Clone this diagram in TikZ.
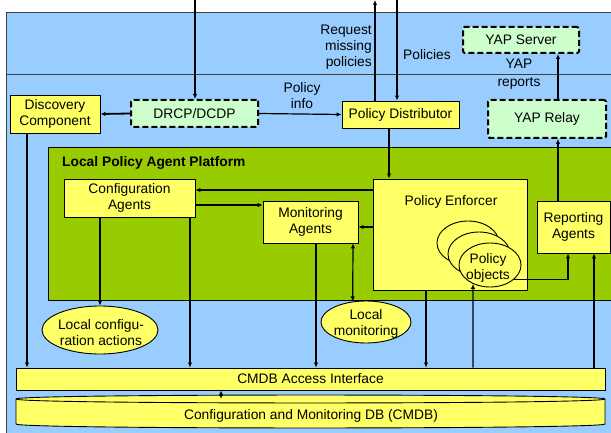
\documentclass[tikz,border=0pt]{standalone}
\usepackage{fontspec}
\setmainfont{Liberation Sans}
\usetikzlibrary{arrows.meta,shapes.geometric}
\definecolor{bandblue}{HTML}{99CCFF}
\definecolor{platgreen}{HTML}{99CC00}
\definecolor{boxyellow}{HTML}{FFFF66}
\definecolor{dashgreen}{HTML}{CCFFCC}
\begin{document}
\begin{tikzpicture}[x=1pt,y=-1pt,
  font=\fontsize{13.8}{16}\selectfont,
  box/.style={draw, fill=boxyellow, line width=0.9pt, align=center, inner sep=0pt},
  dbox/.style={draw, fill=dashgreen, line width=2pt, dash pattern=on 6pt off 3pt, rounded corners=1.5pt, align=center, inner sep=0pt},
  ell/.style={ellipse, draw, fill=boxyellow, line width=0.9pt, inner sep=0pt, align=center},
  lbl/.style={align=center, inner sep=0pt},
  arr/.style={line width=1.2pt, -{Latex[length=5pt,width=4.5pt]}},
  darr/.style={line width=1.2pt, {Latex[length=5pt,width=4.5pt]}-{Latex[length=5pt,width=4.5pt]}},
  plain/.style={line width=1.2pt}]
\useasboundingbox (0,0) rectangle (611,433);
\fill[white] (0,0) rectangle (611,433);
% bands
\path[draw=black!75, fill=bandblue, line width=0.8pt] (6,12) rectangle (625,74);
\path[draw=black!75, fill=bandblue, line width=0.8pt] (6,74) rectangle (625,445);
% platform
\node[draw, fill=platgreen, line width=1pt, minimum width=580pt, minimum height=153pt, anchor=north west, inner sep=0pt] (plat) at (48,147) {};
\node[lbl, anchor=west, font=\fontsize{13.8}{16}\selectfont\bfseries] (platlbl) at (62,163) {Local Policy Agent Platform};

% top nodes
\node[box, minimum width=90pt, minimum height=38pt] (disc) at (55,114) {Discovery\\Component};
\node[dbox, minimum width=127pt, minimum height=27pt] (drcp) at (194.5,113.5) {DRCP/DCDP};
\node[box, minimum width=117pt, minimum height=27pt] (pd) at (400.5,114.5) {Policy Distributor};
\node[dbox, minimum width=116pt, minimum height=26pt] (yaps) at (521,40) {YAP Server};
\node[dbox, minimum width=118pt, minimum height=38pt] (yapr) at (547,119) {YAP Relay};

% platform nodes
\node[box, minimum width=131pt, minimum height=38pt] (conf) at (129.5,198) {Configuration\\Agents};
\node[box, minimum width=95pt, minimum height=42pt] (mon) at (310.5,222) {Monitoring\\Agents};
\node[box, minimum width=154pt, minimum height=111pt] (pe) at (450,234.5) {};
\node[lbl] (petext) at (451,202) {Policy Enforcer};
\node[box, minimum width=73pt, minimum height=52pt] (rep) at (573.5,227) {Reporting\\Agents};
\node[ell, minimum width=62pt, minimum height=44pt] (po1) at (468,243) {};
\node[ell, minimum width=62pt, minimum height=44pt] (po2) at (479,254) {};
\node[ell, minimum width=62pt, minimum height=44pt] (po3) at (490,265) {};
\node[lbl] (potext) at (488,268) {Policy\\objects};

% lower nodes
\node[ell, minimum width=116pt, minimum height=48pt] (lca) at (100,330) {};
\node[lbl] (lcatext) at (101,333) {Local configu-\\ration actions};
\node[ell, minimum width=90pt, minimum height=42pt] (lmon) at (366,322) {};
\node[lbl] (lmontext) at (366,324) {Local\\monitoring};
\node[box, minimum width=589pt, minimum height=22pt] (cai) at (310.5,379) {CMDB Access Interface};
% database cylinder
\node[minimum width=589pt, minimum height=29pt, inner sep=0pt] (cmdb) at (310.5,413.5) {};
\path[draw, fill=boxyellow, line width=0.9pt] (16,399) -- (16,424) .. controls (16,429.3) and (605,429.3) .. (605,424) -- (605,399) .. controls (605,393.7) and (16,393.7) .. (16,399) -- cycle;
\draw[line width=0.9pt] (16,399) .. controls (16,404.3) and (605,404.3) .. (605,399);
\node[lbl] (cmdbtext) at (311,416) {Configuration and Monitoring DB (CMDB)};

% top labels
\node[lbl, anchor=east, align=right] (reqlbl) at (372,47) {Request\\missing\\policies};
\node[lbl] (pollbl) at (427,55) {Policies};
\node[lbl] (pinfo) at (302,96) {Policy\\info};
\node[lbl, font=\fontsize{13.8}{17.5}\selectfont] (yaplbl) at (519,74) {YAP\\reports};

% coordinates
\coordinate (t1) at (195,0);
\coordinate (t2) at (375,0);
\coordinate (t3) at (397,0);

% connectors top
\draw[arr] (t1) -- (drcp.north -| t1);
\draw[arr] (pd.north -| t2) -- (t2);
\draw[arr] (t3) -- (pd.north -| t3);
\draw[arr, line width=1.8pt] (drcp.west) -- (disc.east);
\draw[arr] (drcp.east) -- (pd.west);
\draw[arr] (yapr.north -| 558,0) -- (yaps.south -| 558,0);
\draw[arr] (rep.north -| 558,0) -- (yapr.south -| 558,0);
\draw[arr] (pd.south -| 389,0) -- (pe.north -| 389,0);
% platform connectors
\draw[arr] (pe.west |- 0,190) -- (conf.east |- 0,190);
\draw[arr] (conf.east |- 0,205) -- (mon.west |- 0,205);
\draw[arr] (pe.west |- 0,227) -- (mon.east |- 0,227);
\draw[arr] (po3.330) -| (rep.south -| 568,0);
% down connectors
\draw[arr] (disc.south -| 27,0) -- (cai.north -| 27,0);
\draw[arr] (conf.south -| 100,0) -- (lca.north);
\draw[arr] (conf.south -| 190,0) -- (cai.north -| 190,0);
\draw[arr] (mon.south -| 316,0) -- (cai.north -| 316,0);
\draw[darr] (mon.south -| 353,0) -- (lmon.123);
\draw[arr] (pe.south -| 426,0) -- (cai.north -| 426,0);
\draw[arr] (cai.north -| 473,0) -- (po3.228);
\draw[arr] (cai.north -| 594,0) -- (rep.south -| 594,0);
\draw[darr] (cai.south -| 221,0) -- (cmdb.north -| 221,0);
\end{tikzpicture}
\end{document}
